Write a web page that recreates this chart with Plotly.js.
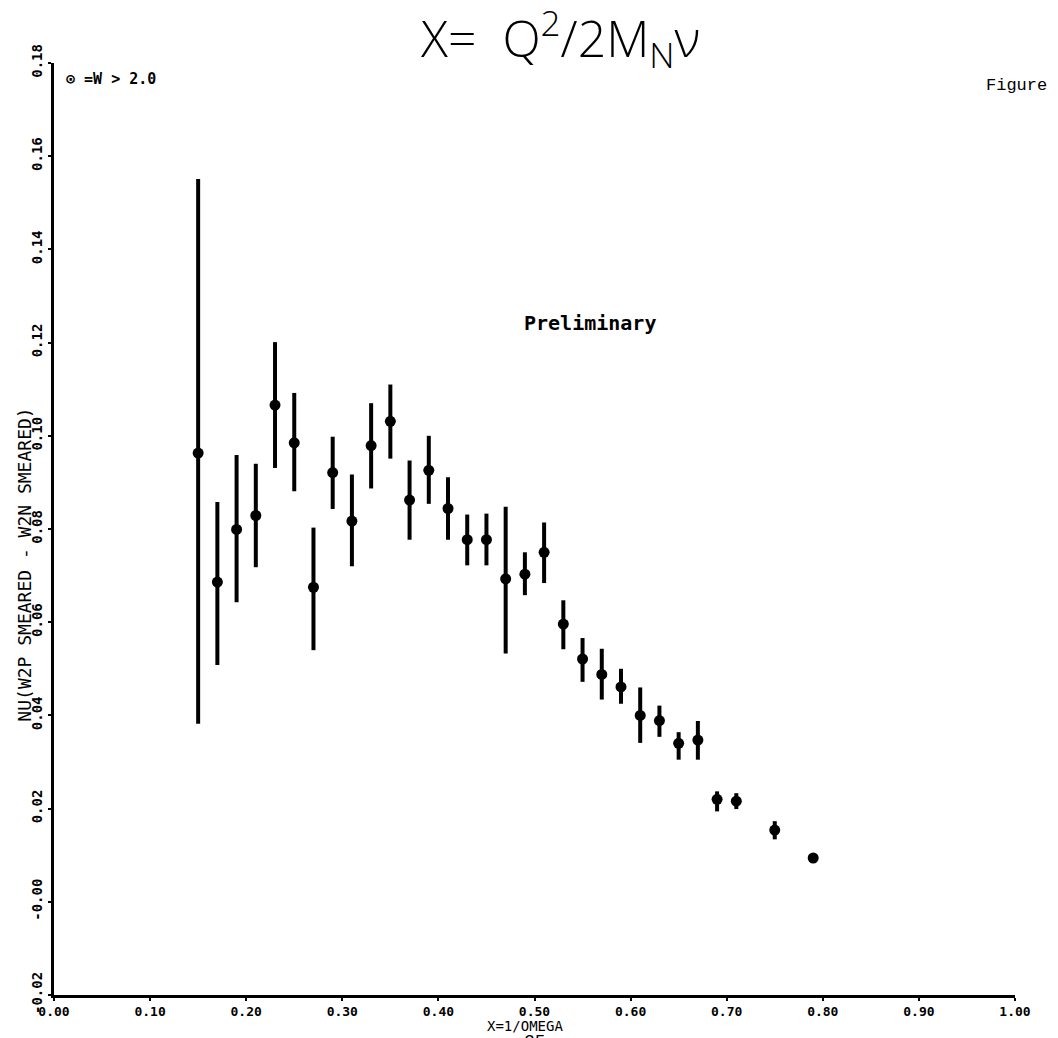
<!DOCTYPE html>
<html>
<head>
<meta charset="utf-8">
<script src="https://cdn.plot.ly/plotly-3.0.1.min.js"></script>
<style>
  html, body { margin: 0; padding: 0; background: #ffffff; }
  #chart { width: 1058px; height: 1038px; }
</style>
</head>
<body>
<div id="chart"></div>
<script>
// ---- data ----
const xValues = [0.15, 0.17, 0.19, 0.21, 0.23, 0.25, 0.27, 0.29, 0.31, 0.33, 0.35, 0.37, 0.39, 0.41, 0.43, 0.45, 0.47, 0.49, 0.51, 0.53, 0.55, 0.57, 0.59, 0.61, 0.63, 0.65, 0.67, 0.69, 0.71, 0.75, 0.79];
const yValues = [0.0963, 0.0686, 0.0799, 0.0829, 0.1066, 0.0985, 0.0675, 0.0921, 0.0817, 0.0979, 0.1031, 0.0862, 0.0926, 0.0844, 0.0777, 0.0777, 0.0693, 0.0703, 0.0750, 0.0596, 0.0521, 0.0488, 0.0461, 0.0400, 0.0389, 0.0340, 0.0347, 0.0220, 0.0216, 0.0154, 0.0094];
const yUpper  = [0.1551, 0.0858, 0.0959, 0.0940, 0.1201, 0.1092, 0.0803, 0.0998, 0.0917, 0.1070, 0.1110, 0.0947, 0.1000, 0.0911, 0.0831, 0.0833, 0.0848, 0.0750, 0.0814, 0.0647, 0.0566, 0.0543, 0.0500, 0.0460, 0.0421, 0.0364, 0.0388, 0.0237, 0.0233, 0.0173, 0.0094];
const yLower  = [0.0382, 0.0508, 0.0643, 0.0718, 0.0931, 0.0881, 0.0540, 0.0843, 0.0720, 0.0887, 0.0951, 0.0777, 0.0854, 0.0777, 0.0722, 0.0722, 0.0533, 0.0658, 0.0684, 0.0542, 0.0472, 0.0434, 0.0425, 0.0341, 0.0354, 0.0305, 0.0305, 0.0194, 0.0199, 0.0134, 0.0094];

const xTickVals = [0.0, 0.1, 0.2, 0.3, 0.4, 0.5, 0.6, 0.7, 0.8, 0.9, 1.0];
const xTickText = ["0.00", "0.10", "0.20", "0.30", "0.40", "0.50", "0.60", "0.70", "0.80", "0.90", "1.00"];
const yTickVals = [-0.02, 0.0, 0.02, 0.04, 0.06, 0.08, 0.10, 0.12, 0.14, 0.16, 0.18];
const yTickText = ["-0.02", "-0.00", "0.02", "0.04", "0.06", "0.08", "0.10", "0.12", "0.14", "0.16", "0.18"];

const xTitle = "X=1/OMEGA";
const yTitle = "NU(W2P SMEARED - W2N SMEARED)";
const legendText = "\u2299 =W > 2.0";
const formulaText = "X=\u00A0\u00A0Q<sup>2</sup>/2M<sub>N</sub>\u03BD";
const prelimText = "Preliminary";
const figureText = "Figure";
const pageText = "25";

// ---- build ----
const errPlus = yUpper.map((u, i) => u - yValues[i]);
const errMinus = yLower.map((l, i) => yValues[i] - l);

const plotter = { family: "DejaVu Sans Mono", size: 14, color: "#000", weight: "bold" };

const trace = {
  type: "scatter",
  mode: "markers",
  x: xValues,
  y: yValues,
  marker: { color: "#000", size: 11, symbol: "circle" },
  error_y: {
    type: "data",
    symmetric: false,
    array: errPlus,
    arrayminus: errMinus,
    color: "#000",
    thickness: 4,
    width: 0
  },
  hoverinfo: "x+y",
  showlegend: false
};

const layout = {
  width: 1058,
  height: 1038,
  margin: { l: 54, r: 43, t: 63, b: 43, pad: 0 },
  paper_bgcolor: "#ffffff",
  plot_bgcolor: "#ffffff",
  showlegend: false,
  xaxis: {
    range: [0, 1],
    tickmode: "array",
    tickvals: xTickVals,
    ticktext: xTickText,
    showgrid: false,
    zeroline: false,
    showline: true,
    linecolor: "#000",
    linewidth: 2.5,
    ticks: "outside",
    ticklen: 3,
    tickwidth: 2,
    tickcolor: "#000",
    tickfont: { family: "DejaVu Sans Mono", size: 13, color: "#000", weight: "bold" },
    ticklabelstandoff: 0
  },
  yaxis: {
    range: [-0.02, 0.18],
    tickmode: "array",
    tickvals: yTickVals,
    ticktext: yTickText,
    tickangle: -90,
    showgrid: false,
    zeroline: false,
    showline: true,
    linecolor: "#000",
    linewidth: 3,
    ticks: "outside",
    ticklen: 3,
    tickwidth: 2,
    tickcolor: "#000",
    tickfont: plotter,
    ticklabelstandoff: 0
  },
  annotations: [
    {
      text: yTitle, xref: "paper", yref: "y", x: -0.031, y: 0.0724,
      xanchor: "center", yanchor: "middle", textangle: -90, showarrow: false,
      font: { family: "DejaVu Sans Mono", size: 18, color: "#000" }
    },
    {
      text: xTitle, xref: "x", yref: "paper", x: 0.49, y: 0, yshift: -31,
      xanchor: "center", yanchor: "middle", showarrow: false,
      font: { family: "DejaVu Sans Mono", size: 14, color: "#000" }
    },
    {
      text: pageText, xref: "x", yref: "paper", x: 0.5, y: 0, yshift: -47,
      xanchor: "center", yanchor: "middle", showarrow: false,
      font: { family: "Liberation Mono", size: 18, color: "#000" }
    },
    {
      text: legendText, xref: "paper", yref: "y", x: 0.010, y: 0.1765,
      xanchor: "left", yanchor: "middle", showarrow: false,
      font: { family: "DejaVu Sans Mono", size: 15, color: "#000", weight: "bold" }
    },
    {
      text: formulaText, xref: "paper", yref: "paper", x: 0.527, y: 1, yshift: 25,
      xanchor: "center", yanchor: "middle", showarrow: false,
      font: { family: "Open Sans", size: 50, color: "#000", weight: 300 }
    },
    {
      text: prelimText, xref: "x", yref: "y", x: 0.558, y: 0.1241,
      xanchor: "center", yanchor: "middle", showarrow: false,
      font: { family: "DejaVu Sans Mono", size: 20, color: "#000", weight: "bold" }
    },
    {
      text: figureText, xref: "paper", yref: "paper", x: 0.968, y: 1, yshift: -22,
      xanchor: "left", yanchor: "middle", showarrow: false,
      font: { family: "Liberation Mono", size: 17, color: "#000" }
    }
  ]
};

Plotly.newPlot("chart", [trace], layout, { displayModeBar: false, staticPlot: true });
</script>
</body>
</html>
